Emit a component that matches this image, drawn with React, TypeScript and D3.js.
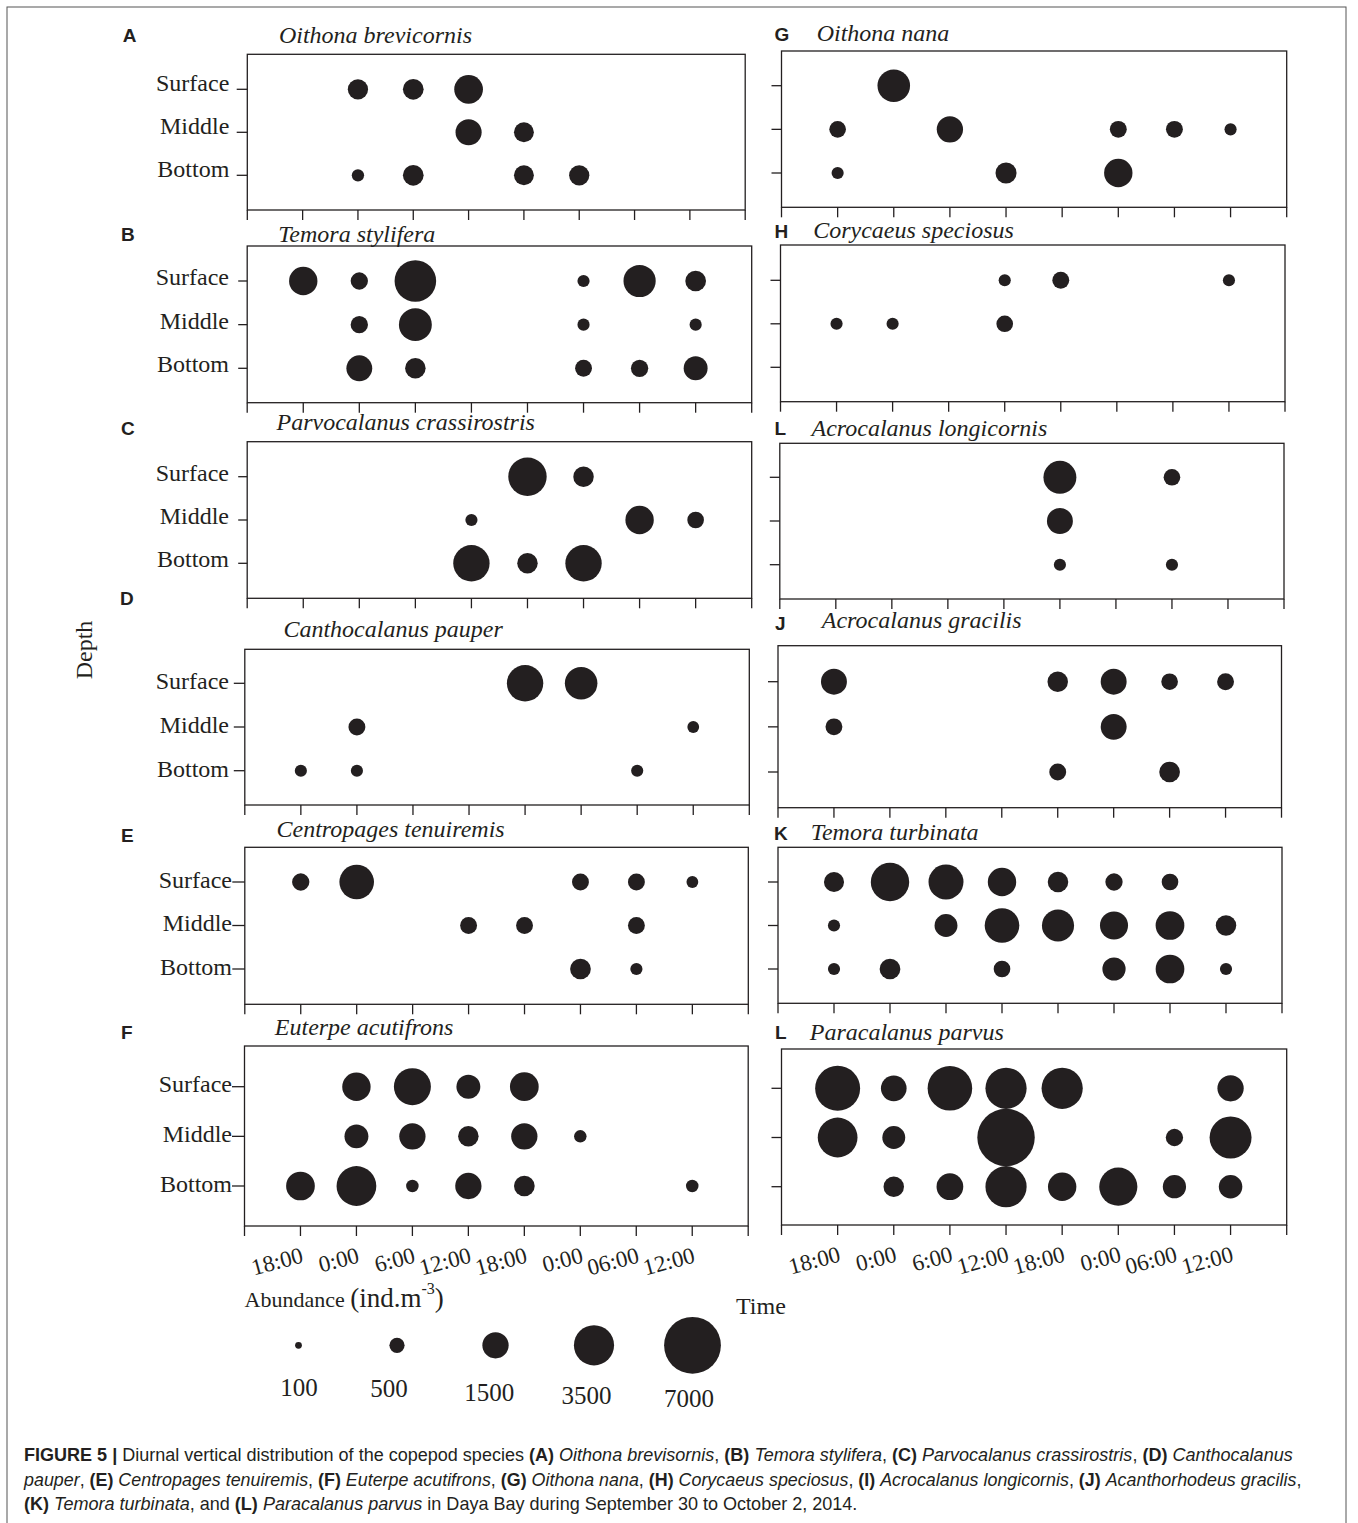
import React from "react";
import * as d3 from "d3";

// ---------- data ----------
const timeLabels = ["18:00", "0:00", "6:00", "12:00", "18:00", "0:00", "06:00", "12:00"];
const depthLabels = ["Surface", "Middle", "Bottom"];
const legendValues = [100, 500, 1500, 3500, 7000];

// abundance (ind.m-3) per depth row [Surface, Middle, Bottom], per time slot; 0 = absent
const oithonaBrevicornis = [
  [0, 890, 930, 1790, 0, 0, 0, 0],
  [0, 0, 0, 1480, 860, 0, 0, 0],
  [0, 330, 930, 0, 860, 890, 0, 0],
];
const temoraStylifera = [
  [1750, 650, 3750, 0, 0, 320, 2250, 930],
  [0, 650, 2350, 0, 0, 320, 0, 320],
  [0, 1450, 910, 0, 0, 620, 650, 1240],
];
const parvocalanusCrassirostris = [
  [0, 0, 0, 0, 3200, 910, 0, 0],
  [0, 0, 0, 320, 0, 0, 1750, 600],
  [0, 0, 0, 2870, 910, 2870, 0, 0],
];
const canthocalanusPauper = [
  [0, 0, 0, 0, 2870, 2300, 0, 0],
  [0, 620, 0, 0, 0, 0, 0, 300],
  [320, 320, 0, 0, 0, 0, 320, 0],
];
const centropagesTenuiremis = [
  [650, 2600, 0, 0, 0, 620, 620, 300],
  [0, 0, 0, 620, 620, 0, 620, 0],
  [0, 0, 0, 0, 0, 930, 320, 0],
];
const euterpeAcutifrons = [
  [0, 1750, 2970, 1240, 1790, 0, 0, 0],
  [0, 1240, 1500, 910, 1500, 340, 0, 0],
  [1790, 3430, 340, 1500, 930, 0, 0, 340],
];
const oithonaNana = [
  [0, 2300, 0, 0, 0, 0, 0, 0],
  [600, 0, 1500, 0, 0, 620, 620, 320],
  [320, 0, 0, 965, 0, 1750, 0, 0],
];
const corycaeusSpeciosus = [
  [0, 0, 0, 320, 620, 0, 0, 320],
  [320, 320, 0, 600, 0, 0, 0, 0],
  [0, 0, 0, 0, 0, 0, 0, 0],
];
const acrocalanusLongicornis = [
  [0, 0, 0, 0, 2350, 0, 600, 0],
  [0, 0, 0, 0, 1460, 0, 0, 0],
  [0, 0, 0, 0, 320, 0, 320, 0],
];
const acrocalanusGracilis = [
  [1460, 0, 0, 0, 910, 1460, 600, 620],
  [620, 0, 0, 0, 0, 1460, 0, 0],
  [0, 0, 0, 0, 620, 0, 930, 0],
];
const temoraTurbinata = [
  [875, 3200, 2650, 1750, 910, 650, 600, 0],
  [320, 0, 1140, 2600, 2240, 1710, 1790, 910],
  [320, 930, 0, 600, 0, 1170, 1790, 320],
];
const paracalanusParvus = [
  [4390, 1430, 4310, 3680, 3680, 0, 0, 1500],
  [3430, 1140, 0, 7160, 0, 0, 650, 3820],
  [0, 910, 1550, 3680, 1750, 3160, 1170, 1200],
];

// ---------- layout ----------
const INK = "#231f20";
const SERIF = "'Liberation Serif', 'Times New Roman', Times, serif";
const SANS = "'Liberation Sans', Arial, Helvetica, sans-serif";

type PanelCfg = {
  letter: string;
  title: string;
  data: number[][];
  box: [number, number, number, number]; // left, right, top, bottom
  rows: [number, number];
  titlePos: [number, number];
  letterPos: [number, number];
  yLabels?: { end: number; tick: number; dy: number };
  tickLen: number;
  xLabels?: boolean;
};

const panels: PanelCfg[] = [
  { letter: "A", title: "Oithona brevicornis", data: oithonaBrevicornis, box: [247.3, 745.2, 54.3, 210], rows: [89.3, 175.3], titlePos: [278.9, 43.3], letterPos: [122.7, 41.7], yLabels: { end: 229.3, tick: 10.6, dy: 1.5 }, tickLen: 10 },
  { letter: "B", title: "Temora stylifera", data: temoraStylifera, box: [247.2, 751.7, 246, 402.7], rows: [281, 368.3], titlePos: [278.2, 241.7], letterPos: [121, 241], yLabels: { end: 229, tick: 9, dy: 4 }, tickLen: 10 },
  { letter: "C", title: "Parvocalanus crassirostris", data: parvocalanusCrassirostris, box: [247.2, 751.7, 441.7, 598.3], rows: [476.7, 563.3], titlePos: [276.5, 430], letterPos: [121, 435], yLabels: { end: 229, tick: 9, dy: 4 }, tickLen: 10 },
  { letter: "D", title: "Canthocalanus pauper", data: canthocalanusPauper, box: [244.8, 749.3, 649.3, 805], rows: [683.3, 770.7], titlePos: [283.4, 636.7], letterPos: [120, 605], yLabels: { end: 229, tick: 11, dy: 6 }, tickLen: 10 },
  { letter: "E", title: "Centropages tenuiremis", data: centropagesTenuiremis, box: [244.8, 748.3, 847.3, 1004.3], rows: [882, 969], titlePos: [276.5, 836.7], letterPos: [121, 842], yLabels: { end: 232, tick: 12.5, dy: 5.5 }, tickLen: 10 },
  { letter: "F", title: "Euterpe acutifrons", data: euterpeAcutifrons, box: [244.5, 748.2, 1046, 1226], rows: [1086.7, 1186], titlePos: [274.8, 1035], letterPos: [121, 1039], yLabels: { end: 232, tick: 12.5, dy: 5.5 }, tickLen: 10, xLabels: true },
  { letter: "G", title: "Oithona nana", data: oithonaNana, box: [781.5, 1286.7, 51, 207.3], rows: [85.7, 173], titlePos: [816.7, 40.7], letterPos: [774.6, 41], tickLen: 10 },
  { letter: "H", title: "Corycaeus speciosus", data: corycaeusSpeciosus, box: [780.5, 1285, 245, 401.7], rows: [280.3, 367.3], titlePos: [813.2, 238.3], letterPos: [774.6, 238], tickLen: 10 },
  { letter: "L", title: "Acrocalanus longicornis", data: acrocalanusLongicornis, box: [779.8, 1284, 443.3, 599], rows: [477.3, 564.7], titlePos: [811.5, 435.7], letterPos: [774.6, 435], tickLen: 10 },
  { letter: "J", title: "Acrocalanus gracilis", data: acrocalanusGracilis, box: [778, 1281.5, 645.7, 807.7], rows: [681.7, 772], titlePos: [821.8, 628.3], letterPos: [775, 630], tickLen: 10 },
  { letter: "K", title: "Temora turbinata", data: temoraTurbinata, box: [778, 1282, 847.3, 1003.3], rows: [882, 969], titlePos: [810.8, 840], letterPos: [774, 840], tickLen: 10 },
  { letter: "L", title: "Paracalanus parvus", data: paracalanusParvus, box: [781.5, 1286.7, 1049, 1225], rows: [1088.3, 1186.7], titlePos: [809.8, 1040], letterPos: [775, 1039], tickLen: 10, xLabels: true },
];

const rScale = d3.scaleSqrt().domain([0, 7000]).range([0, 28.4]);

function Panel({ p }: { p: PanelCfg }) {
  const [l, r, t, b] = p.box;
  const x = d3.scaleLinear().domain([0, timeLabels.length + 1]).range([l, r]);
  const y = d3.scalePoint<string>().domain(depthLabels).range(p.rows);
  const ticks = d3.range(0, timeLabels.length + 2);
  return (
    <g>
      <text x={p.letterPos[0]} y={p.letterPos[1]} fontFamily={SANS} fontWeight="bold" fontSize={19} fill={INK}>
        {p.letter}
      </text>
      <text x={p.titlePos[0]} y={p.titlePos[1]} fontFamily={SERIF} fontStyle="italic" fontSize={24} fill={INK}>
        {p.title}
      </text>
      <rect x={l} y={t} width={r - l} height={b - t} fill="none" stroke={INK} strokeWidth={1.3} />
      {ticks.map((i) => (
        <line key={"xt" + i} x1={x(i)} x2={x(i)} y1={b} y2={b + p.tickLen} stroke={INK} strokeWidth={1.3} />
      ))}
      {depthLabels.map((d) => {
        const tl = p.yLabels ? p.yLabels.tick : 10;
        return (
          <g key={"yt" + d}>
            <line x1={l - tl} x2={l} y1={y(d)} y2={y(d)} stroke={INK} strokeWidth={1.3} />
            {p.yLabels && (
              <text x={p.yLabels.end} y={(y(d) as number) + p.yLabels.dy} textAnchor="end" fontFamily={SERIF} fontSize={24} fill={INK}>
                {d}
              </text>
            )}
          </g>
        );
      })}
      {p.data.map((row, ri) =>
        row.map((v, ti) =>
          v > 0 ? (
            <circle key={ri + "-" + ti} cx={x(ti + 1)} cy={y(depthLabels[ri])} r={rScale(v)} fill={INK} />
          ) : null
        )
      )}
      {p.xLabels &&
        timeLabels.map((lab, i) => {
          const tx = x(i + 1) + 4;
          const ty = b + 36;
          return (
            <text key={"xl" + i} x={tx} y={ty} transform={`rotate(-15 ${tx} ${ty})`} textAnchor="end" fontFamily={SERIF} fontSize={23} fill={INK}>
              {lab}
            </text>
          );
        })}
    </g>
  );
}

const legendX = d3.scalePoint<number>().domain(legendValues).range([298.5, 692.5]);
const legendLabelShift = [
  [0.5, 50.7],
  [-8, 51.4],
  [-6.3, 55.7],
  [-7.6, 58.7],
  [-3.5, 61.4],
];

const captionLines = [
  {
    len: 1269,
    parts: [
      ["b", "FIGURE 5 | "], ["n", "Diurnal vertical distribution of the copepod species "], ["b", "(A) "], ["i", "Oithona brevisornis"], ["n", ", "],
      ["b", "(B) "], ["i", "Temora stylifera"], ["n", ", "], ["b", "(C) "], ["i", "Parvocalanus crassirostris"], ["n", ", "], ["b", "(D) "], ["i", "Canthocalanus"],
    ],
  },
  {
    len: 1278,
    parts: [
      ["i", "pauper"], ["n", ", "], ["b", "(E) "], ["i", "Centropages tenuiremis"], ["n", ", "], ["b", "(F) "], ["i", "Euterpe acutifrons"], ["n", ", "],
      ["b", "(G) "], ["i", "Oithona nana"], ["n", ", "], ["b", "(H) "], ["i", "Corycaeus speciosus"], ["n", ", "], ["b", "(I) "], ["i", "Acrocalanus longicornis"], ["n", ", "],
      ["b", "(J) "], ["i", "Acanthorhodeus gracilis"], ["n", ","],
    ],
  },
  {
    len: 834,
    parts: [
      ["b", "(K) "], ["i", "Temora turbinata"], ["n", ", and "], ["b", "(L) "], ["i", "Paracalanus parvus"], ["n", " in Daya Bay during September 30 to October 2, 2014."],
    ],
  },
];
const captionBaselines = [1461, 1486, 1510];
const CAPTION_SIZE = 19;

let measureCtx: CanvasRenderingContext2D | null = null;
function partFont(kind: string) {
  return `${kind === "i" ? "italic " : ""}${kind === "b" ? "bold " : ""}${CAPTION_SIZE}px 'Liberation Sans', Arial, sans-serif`;
}
function measureLine(parts: string[][]): number {
  if (typeof document === "undefined") return 0;
  if (!measureCtx) measureCtx = document.createElement("canvas").getContext("2d");
  if (!measureCtx) return 0;
  let w = 0;
  for (const [k, s] of parts) {
    measureCtx.font = partFont(k);
    w += measureCtx.measureText(s).width;
  }
  return w;
}

export default function App() {
  const legendY = 1345.3;
  return (
    <svg width={1358} height={1523} style={{ position: "absolute", left: 0, top: 0, background: "#fff" }}>
      <rect x={0} y={0} width={1358} height={1523} fill="#fff" />
      <rect x={7} y={7} width={1339} height={1540} fill="none" stroke="#555" strokeWidth={1} />
      {panels.map((p, i) => (
        <Panel key={i} p={p} />
      ))}
      <text transform="translate(92 650) rotate(-90)" textAnchor="middle" fontFamily={SERIF} fontSize={24} fill={INK}>
        Depth
      </text>
      <text x={736} y={1314.3} fontFamily={SERIF} fontSize={24} fill={INK}>
        Time
      </text>
      <text x={244.5} y={1307.3} fontFamily={SERIF} fill={INK}>
        <tspan fontSize={22}>Abundance </tspan>
        <tspan fontSize={27}>(ind.m</tspan>
        <tspan fontSize={16} dy={-13}>-3</tspan>
        <tspan fontSize={27} dy={13}>)</tspan>
      </text>
      {legendValues.map((v, i) => (
        <g key={"lg" + v}>
          <circle cx={legendX(v)} cy={legendY} r={rScale(v)} fill={INK} />
          <text x={(legendX(v) as number) + legendLabelShift[i][0]} y={legendY + legendLabelShift[i][1]} textAnchor="middle" fontFamily={SERIF} fontSize={25} fill={INK}>
            {v}
          </text>
        </g>
      ))}
      {captionLines.map((line, li) => {
        const natural = measureLine(line.parts);
        const sx = natural > 0 ? line.len / natural : 1;
        return (
          <g key={"cap" + li} transform={`translate(24 ${captionBaselines[li]}) scale(${sx} 1)`}>
            <text x={0} y={0} fontFamily={SANS} fontSize={CAPTION_SIZE} fill={INK} xmlSpace="preserve" style={{ whiteSpace: "pre" }}>
              {line.parts.map((pt, pi) => (
                <tspan key={pi} fontWeight={pt[0] === "b" ? "bold" : "normal"} fontStyle={pt[0] === "i" ? "italic" : "normal"}>
                  {pt[1]}
                </tspan>
              ))}
            </text>
          </g>
        );
      })}
    </svg>
  );
}
